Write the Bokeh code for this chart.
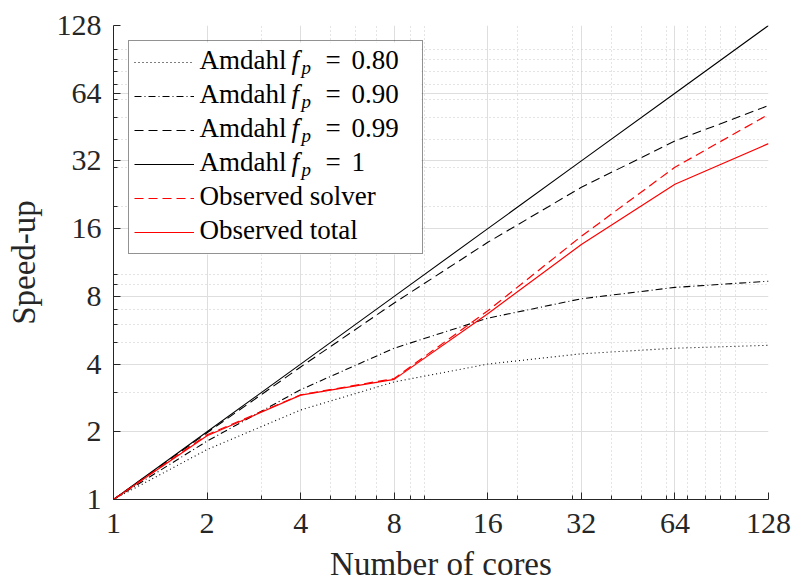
from bokeh.plotting import figure
from bokeh.models import FixedTicker, Legend, LegendItem, Label, BasicTickFormatter, BoxAnnotation
from bokeh.embed import file_html
from bokeh.resources import INLINE

# Speed-up versus number of cores
cores = [1, 2, 4, 8, 16, 32, 64, 128]
amdahl_080 = [1.0, 1.667, 2.5, 3.333, 4.0, 4.444, 4.706, 4.848]
amdahl_090 = [1.0, 1.818, 3.077, 4.706, 6.4, 7.805, 8.767, 9.343]
amdahl_099 = [1.0, 1.980, 3.883, 7.477, 13.91, 24.43, 39.26, 56.39]
amdahl_100 = [1, 2, 4, 8, 16, 32, 64, 128]
observed_solver = [1.0, 1.94, 2.92, 3.45, 6.9, 14.8, 30.0, 51.5]
observed_total = [1.0, 1.92, 2.91, 3.42, 6.7, 13.6, 25.2, 38.2]

major_ticks = [1, 2, 4, 8, 16, 32, 64, 128]
minor_ticks = [3, 5, 6, 7, 9, 10, 20, 30, 40, 50, 60, 70, 80, 90, 100]

amdahl_labels = ["0.80", "0.90", "0.99", "1"]
observed_labels = ["Observed solver", "Observed total"]

FONT = "Liberation Serif"
INK = "#262626"

p = figure(width=795, height=586, x_axis_type="log", y_axis_type="log",
           x_range=(1, 128), y_range=(1, 128),
           min_border_left=113, min_border_right=27, min_border_top=25, min_border_bottom=87,
           output_backend="svg", toolbar_location=None)
p.outline_line_color = None
p.background_fill_color = "white"

for axis, grid in ((p.xaxis[0], p.xgrid[0]), (p.yaxis[0], p.ygrid[0])):
    ticker = FixedTicker(ticks=major_ticks, minor_ticks=minor_ticks)
    axis.ticker = ticker
    grid.ticker = ticker
    axis.formatter = BasicTickFormatter()
    axis.axis_line_color = INK
    axis.major_tick_line_color = INK
    axis.minor_tick_line_color = INK
    axis.major_tick_in = 7
    axis.major_tick_out = 0
    axis.minor_tick_in = 4
    axis.minor_tick_out = 0
    axis.major_label_text_font = FONT
    axis.major_label_text_font_size = "30px"
    axis.major_label_text_color = INK
    axis.axis_label_text_font = FONT
    axis.axis_label_text_font_size = "33px"
    axis.axis_label_text_font_style = "normal"
    axis.axis_label_text_color = INK
    grid.grid_line_color = "#dedede"
    grid.grid_line_width = 1
    grid.minor_grid_line_color = "#c8c8c8"
    grid.minor_grid_line_dash = "1 3"
    grid.minor_grid_line_width = 1

p.xaxis.axis_label = "Number of cores"
p.yaxis.axis_label = "Speed-up"
p.xaxis.major_label_standoff = 14
p.yaxis.major_label_standoff = 12
p.xaxis.axis_label_standoff = 10
p.yaxis.axis_label_standoff = 12

# Legend geometry (screen pixels from the frame's bottom-left corner)
LEG_X, LEG_Y = 15, 245
PAD, GLYPH_W, ROW_H, GAP, STANDOFF, LABEL_W = 5, 60, 32, 2, 6, 217
N_ROWS = 6
legend_h = 2 * PAD + N_ROWS * ROW_H + (N_ROWS - 1) * GAP
legend_w = 2 * PAD + GLYPH_W + STANDOFF + LABEL_W

# white panel behind the legend that hides the grid there
p.add_layout(BoxAnnotation(left=LEG_X, right=LEG_X + legend_w,
                           bottom=LEG_Y, top=LEG_Y + legend_h,
                           left_units="screen", right_units="screen",
                           bottom_units="screen", top_units="screen",
                           fill_color="white", fill_alpha=1.0, line_alpha=0.0,
                           level="underlay", editable=False))

r080 = p.line(cores, amdahl_080, line_color="black", line_width=1.1, line_dash="1 3")
r090 = p.line(cores, amdahl_090, line_color="black", line_width=1.1, line_dash="7 3 1 3")
r099 = p.line(cores, amdahl_099, line_color="black", line_width=1.1, line_dash="9 5")
r100 = p.line(cores, amdahl_100, line_color="black", line_width=1.1)
rsol = p.line(cores, observed_solver, line_color="#ff0000", line_width=1.2, line_dash="9 5")
rtot = p.line(cores, observed_total, line_color="#ff0000", line_width=1.2)

renderers = [r080, r090, r099, r100, rsol, rtot]

# Legend box and line samples; the row texts are set as labels so that
# the subscripted symbol can be typeset in italics.
legend = Legend(items=[LegendItem(label=" ", renderers=[r]) for r in renderers],
                location=(LEG_X, LEG_Y), padding=PAD, margin=0,
                glyph_width=GLYPH_W, glyph_height=ROW_H, label_height=ROW_H,
                label_width=LABEL_W, label_standoff=STANDOFF, spacing=GAP,
                label_text_font=FONT, label_text_font_size="27px",
                border_line_color=INK, border_line_width=1,
                background_fill_alpha=0.0)
p.add_layout(legend)

x0 = LEG_X + PAD + GLYPH_W + STANDOFF


def baseline(i):
    top = LEG_Y + legend_h
    return top - PAD - i * (ROW_H + GAP) - ROW_H / 2 + 3.5


def add_text(x, y, text, size="27px", style="normal"):
    p.add_layout(Label(x=x, y=y, x_units="screen", y_units="screen", text=text,
                       text_font=FONT, text_font_size=size, text_font_style=style,
                       text_color="black", text_baseline="alphabetic", text_align="left"))


for i, val in enumerate(amdahl_labels):
    yb = baseline(i)
    add_text(x0, yb, "Amdahl")
    add_text(x0 + 92, yb, "f", style="italic")
    add_text(x0 + 102, yb - 7, "p", size="19px", style="italic")
    add_text(x0 + 126, yb, "=")
    add_text(x0 + 152, yb, val)

for j, name in enumerate(observed_labels):
    add_text(x0, baseline(len(amdahl_labels) + j), name)

open("out.html", "w").write(file_html(p, INLINE))
